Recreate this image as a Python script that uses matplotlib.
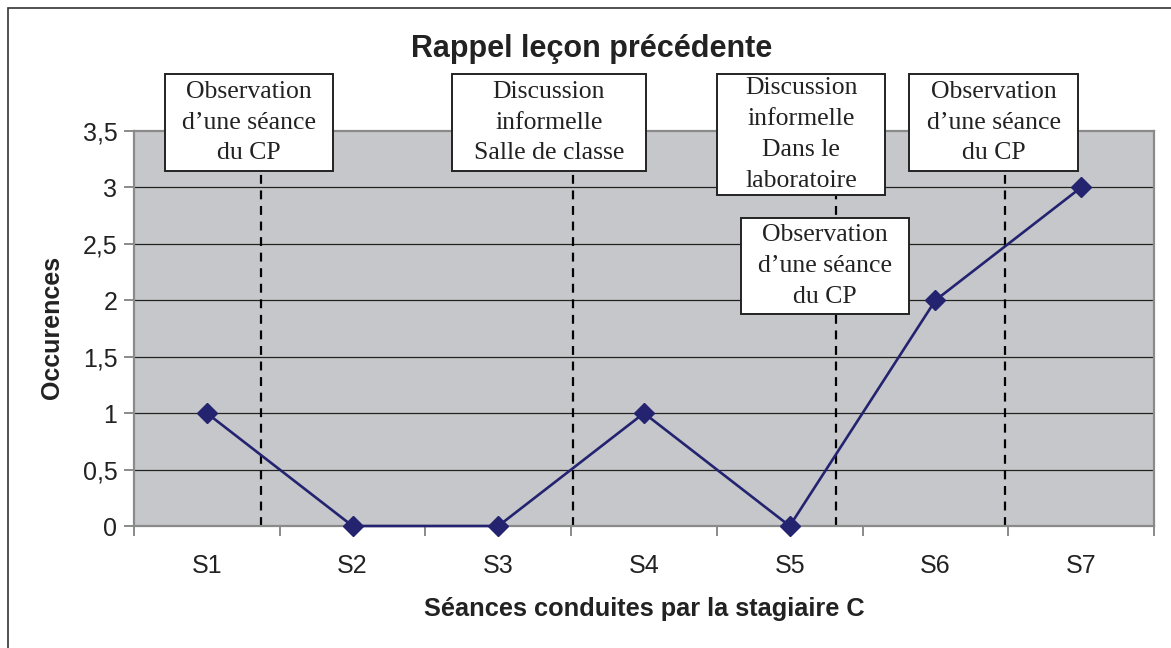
import numpy as np
import matplotlib.pyplot as plt
from matplotlib.patches import Rectangle

seances = ['S1', 'S2', 'S3', 'S4', 'S5', 'S6', 'S7']
occurences = [1, 0, 0, 1, 0, 2, 3]
y_ticks = [0, 0.5, 1, 1.5, 2, 2.5, 3, 3.5]
y_labels = ['0', '0,5', '1', '1,5', '2', '2,5', '3', '3,5']

# dashed separators (between sessions) and their labels
sep_x = [0.37, 2.51, 4.32, 5.48]
notes = ["Observation\nd\u2019une séance\ndu CP",
         "Discussion\ninformelle\nSalle de classe",
         "Discussion\ninformelle\nDans le\nlaboratoire",
         "Observation\nd\u2019une séance\ndu CP",
         "Observation\nd\u2019une séance\ndu CP"]
note_x = [0.289, 2.348, 4.078, 5.399, 4.242]
note_y = [3.575, 3.575, 3.469, 3.575, 2.304]
box_w_px = [168, 194, 168, 169, 168]
box_h_px = [97, 97, 121, 97, 96]

plt.rcParams['font.family'] = ['Liberation Sans', 'DejaVu Sans']

W, H = 1171, 648
fig = plt.figure(figsize=(W / 100, H / 100), dpi=100)
ax_l, ax_b, ax_w, ax_h = 134, 526, 1020, 395
ax = fig.add_axes([ax_l / W, 1 - ax_b / H, ax_w / W, ax_h / H])

# outer frame of the chart
fig.patches.append(Rectangle((8 / W, -0.1), 1.2, 1 - 8 / H + 0.1,
                             transform=fig.transFigure, fill=False,
                             edgecolor='#333333', linewidth=1.2))

ax.set_facecolor('#c6c7ca')
x = np.arange(len(seances))
ax.set_xlim(-0.5, len(seances) - 0.5)
ax.set_ylim(0, 3.5)
px_x = ax_w / len(seances)
px_y = ax_h / 3.5

for yv in y_ticks[1:-1]:
    ax.axhline(yv, color='#222222', linewidth=0.9, zorder=1)

for xs in sep_x:
    ax.axvline(xs, color='black', linestyle=(0, (4, 3)), linewidth=1.6, zorder=2)

ax.plot(x, occurences, color='#232370', linewidth=1.9, marker='D',
        markersize=10.5, zorder=4, clip_on=False)

for txt, tx, ty, bw, bh in zip(notes, note_x, note_y, box_w_px, box_h_px):
    w, h = bw / px_x, bh / px_y
    ax.add_patch(Rectangle((tx - w / 2, ty - h / 2), w, h, facecolor='white',
                           edgecolor='#222222', linewidth=1.4, zorder=5,
                           clip_on=False))
    ax.text(tx, ty, txt, ha='center', va='center', fontsize=18.5,
            family=['Liberation Serif'], color='#222222', linespacing=1.52,
            zorder=6, clip_on=False)

ax.set_yticks(y_ticks)
ax.set_yticklabels(y_labels)
ax.set_xticks(x)
ax.set_xticklabels(seances)
ax.set_xticks(np.arange(-0.5, len(seances)), minor=True)
ax.tick_params(axis='x', which='major', length=0, pad=20, labelsize=18,
               colors='#222222')
ax.tick_params(axis='x', which='minor', length=7, color='#777777', width=1.2)
ax.tick_params(axis='y', length=7, color='#777777', width=1.2, labelsize=18,
               pad=5, colors='#222222')
ax.tick_params(axis='y', color='#777777')

for sp in ax.spines.values():
    sp.set_color('#8a8a8a')
    sp.set_linewidth(1.6)

fig.text(592 / W, 1 - 49 / H, 'Rappel leçon précédente', fontsize=22,
         fontweight='bold', color='#222222', ha='center', va='center')
ax.set_xlabel('Séances conduites par la stagiaire C', fontsize=18.3,
              fontweight='bold', color='#222222', va='center')
ax.xaxis.set_label_coords(0.5, (ax_b - 609) / ax_h)
ax.set_ylabel('Occurences', fontsize=18, fontweight='bold',
              color='#222222', va='center')
ax.yaxis.set_label_coords((52 - ax_l) / ax_w, (ax_b - 327) / ax_h)

fig.savefig('out.png', dpi=100)
